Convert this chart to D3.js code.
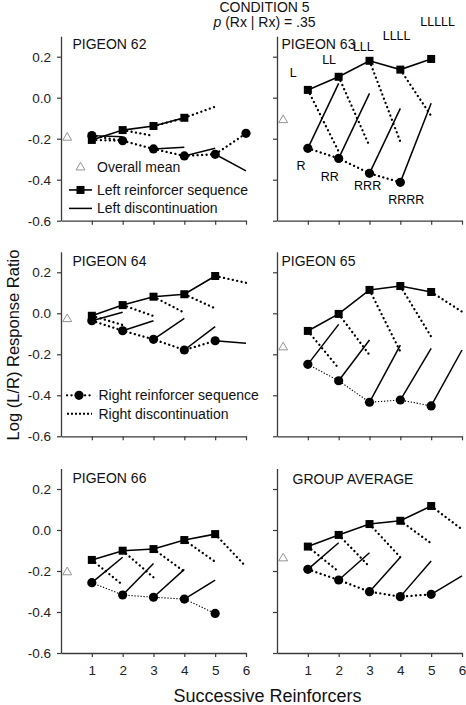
<!DOCTYPE html>
<html><head><meta charset="utf-8">
<script src="https://cdn.jsdelivr.net/npm/d3@7/dist/d3.min.js"></script>
<style>
body{margin:0;background:#fff;}
svg{display:block;font-family:"Liberation Sans",Arial,sans-serif;}
</style></head>
<body><svg id="chart" width="466" height="705"></svg>
<script>
// ---------- data ----------
const xTicks = [1, 2, 3, 4, 5, 6];
const yTicks = [0.2, 0.0, -0.2, -0.4, -0.6];
const yTickLabels = ["0.2", "0.0", "-0.2", "-0.4", "-0.6"];
const panelNames = ["PIGEON 62", "PIGEON 63", "PIGEON 64", "PIGEON 65", "PIGEON 66", "GROUP AVERAGE"];
const overallMean = [-0.195, -0.109, -0.028, -0.166, -0.206, -0.138];
// Left reinforcer sequence (squares), at x = 1..n
const leftSeq = [
  [-0.206, -0.158, -0.138, -0.098],
  [0.038, 0.102, 0.180, 0.137, 0.189],
  [-0.012, 0.040, 0.081, 0.093, 0.182],
  [-0.086, -0.003, 0.114, 0.133, 0.104],
  [-0.146, -0.101, -0.093, -0.049, -0.020],
  [-0.081, -0.024, 0.029, 0.045, 0.117]
];
// Right discontinuation: value at x = i+1 following square i
const rightDisc = [
  [-0.210, -0.186, -0.100, -0.044],
  [-0.263, -0.236, -0.215, -0.089],
  [-0.057, -0.013, 0.003, 0.024, 0.149],
  [-0.268, -0.203, -0.187, -0.114, 0.008],
  [-0.268, -0.231, -0.203, -0.155, -0.179],
  [-0.203, -0.179, -0.133, -0.065, 0.003]
];
// Right reinforcer sequence (circles), at x = 1..n
const rightSeq = [
  [-0.185, -0.210, -0.250, -0.284, -0.276, -0.174],
  [-0.247, -0.296, -0.369, -0.413],
  [-0.036, -0.085, -0.127, -0.179, -0.134],
  [-0.249, -0.329, -0.434, -0.423, -0.452],
  [-0.257, -0.317, -0.328, -0.337, -0.407],
  [-0.192, -0.244, -0.301, -0.325, -0.314]
];
// Left discontinuation: value at x = i+1 following circle i
const leftDisc = [
  [-0.190, null, -0.242, -0.247, -0.357],
  [0.070, 0.021, -0.052, -0.027],
  [0.005, -0.036, -0.025, -0.065, -0.146],
  [-0.054, -0.130, -0.155, -0.171, -0.179],
  [-0.133, -0.163, -0.192, -0.244],
  [-0.062, -0.111, -0.133, -0.151, -0.224]
];
// sequence labels for PIGEON 63 (data coords)
const seqLabelsL = ["L", "LL", "LLL", "LLLL", "LLLLL"];
const seqLabelsLx = [0.53, 1.69, 2.8, 3.88, 5.21];
const seqLabelsLy = [0.119, 0.183, 0.245, 0.300, 0.367];
const seqLabelsR = ["R", "RR", "RRR", "RRRR"];
const seqLabelsRx = [0.78, 1.71, 2.94, 4.19];
const seqLabelsRy = [-0.333, -0.387, -0.431, -0.500];
const meanX = 0.2;

// ---------- layout ----------
const svg = d3.select("#chart");
const colX = [[61, 246], [277, 462]];
const rowY = [[36.2, 220.7], [251.8, 436.3], [468.5, 653]];
const axisColor = "#3a3a3a";
const thinDotPanels = new Set([3, 4]);
const font = "Liberation Sans, Arial, sans-serif";

panelNames.forEach((name, p) => {
  const col = p % 2, row = Math.floor(p / 2);
  const x = d3.scaleLinear().domain([0, 6]).range(colX[col]);
  const y = d3.scaleLinear().domain([0.3, -0.6]).range(rowY[row]);
  const g = svg.append("g");

  // axes
  const xa = g.append("g").attr("transform", `translate(0,${y(-0.6)})`)
    .call(d3.axisBottom(x).tickValues(xTicks).tickSize(4).tickSizeOuter(0)
      .tickFormat(row === 2 ? d3.format("d") : () => ""));
  const ya = g.append("g").attr("transform", `translate(${x(0)},0)`)
    .call(d3.axisLeft(y).tickValues(yTicks).tickSize(4).tickSizeOuter(0)
      .tickFormat((d, i) => col === 0 ? yTickLabels[i] : ""));
  [xa, ya].forEach(a => {
    a.select(".domain").attr("stroke", axisColor).attr("stroke-width", 1.3);
    a.selectAll(".tick line").attr("stroke", axisColor).attr("stroke-width", 1.2);
    a.selectAll(".tick text").attr("fill", "#222").style("font-size", "13.5px").style("font-family", font);
  });
  xa.selectAll(".tick text").attr("dy", "1.12em");
  ya.selectAll(".tick text").attr("dx", "-3");

  const line = d3.line().x(d => x(d[0])).y(d => y(d[1]));
  const heavyDot = sel => sel.attr("fill", "none").attr("stroke", "#000").attr("stroke-width", 2.3)
    .attr("stroke-linecap", "round").attr("stroke-dasharray", "0.1,4.4");
  const thinDot = sel => sel.attr("fill", "none").attr("stroke", "#000").attr("stroke-width", 1.1)
    .attr("stroke-dasharray", "1.3,1.7");

  // right discontinuation (dotted from squares)
  rightDisc[p].forEach((v, i) => {
    if (v === null) return;
    g.append("path").attr("d", line([[i + 1, leftSeq[p][i]], [i + 2, v]])).call(heavyDot);
  });
  // left discontinuation (solid from circles)
  leftDisc[p].forEach((v, i) => {
    if (v === null) return;
    g.append("path").attr("d", line([[i + 1, rightSeq[p][i]], [i + 2, v]]))
      .attr("fill", "none").attr("stroke", "#000").attr("stroke-width", 1.5);
  });
  // right reinforcer sequence line
  g.append("path").attr("d", line(rightSeq[p].map((v, i) => [i + 1, v])))
    .call(thinDotPanels.has(p) ? thinDot : heavyDot);
  // left reinforcer sequence line
  g.append("path").attr("d", line(leftSeq[p].map((v, i) => [i + 1, v])))
    .attr("fill", "none").attr("stroke", "#000").attr("stroke-width", 1.6);

  // markers
  g.selectAll("rect.sq").data(leftSeq[p]).enter().append("rect")
    .attr("x", (d, i) => x(i + 1) - 4).attr("y", d => y(d) - 4)
    .attr("width", 8).attr("height", 8).attr("fill", "#000");
  g.selectAll("circle.c").data(rightSeq[p]).enter().append("circle")
    .attr("cx", (d, i) => x(i + 1)).attr("cy", d => y(d)).attr("r", 4.6).attr("fill", "#000");
  g.append("path").attr("d", d3.symbol(d3.symbolTriangle, 34)())
    .attr("transform", `translate(${x(meanX)},${y(overallMean[p])})`)
    .attr("fill", "#fff").attr("stroke", "#888").attr("stroke-width", 0.9);

  // panel label
  g.append("text").attr("x", x(0) + (col === 0 ? 11.5 : (p === 5 ? 15.5 : 4.5)))
    .attr("y", y(0.3) + (row === 0 ? 12.3 : (p === 5 ? 15 : 14)))
    .attr("font-size", 14).attr("fill", "#111").text(name);

  if (p === 1) {
    seqLabelsL.forEach((t, i) => g.append("text").attr("x", x(seqLabelsLx[i])).attr("y", y(seqLabelsLy[i]))
      .attr("text-anchor", "middle").attr("dominant-baseline", "central").attr("font-size", 12.5).text(t));
    seqLabelsR.forEach((t, i) => g.append("text").attr("x", x(seqLabelsRx[i])).attr("y", y(seqLabelsRy[i]))
      .attr("text-anchor", "middle").attr("dominant-baseline", "central").attr("font-size", 12.5).text(t));
  }

  // legends
  if (p === 0) {
    const lx0 = x(0) + 8, lx1 = x(0) + 31, tx = x(0) + 36;
    const rows = [y(-0.34), y(-0.45), y(-0.54)];
    g.append("path").attr("d", d3.symbol(d3.symbolTriangle, 34)()).attr("transform", `translate(${(lx0 + lx1) / 2},${rows[0]})`)
      .attr("fill", "#fff").attr("stroke", "#888").attr("stroke-width", 0.9);
    g.append("line").attr("x1", lx0).attr("x2", lx1).attr("y1", rows[1]).attr("y2", rows[1]).attr("stroke", "#000").attr("stroke-width", 1.6);
    g.append("rect").attr("x", (lx0 + lx1) / 2 - 4).attr("y", rows[1] - 4).attr("width", 8).attr("height", 8);
    g.append("line").attr("x1", lx0).attr("x2", lx1).attr("y1", rows[2]).attr("y2", rows[2]).attr("stroke", "#000").attr("stroke-width", 1.5);
    ["Overall mean", "Left reinforcer sequence", "Left discontinuation"].forEach((t, i) =>
      g.append("text").attr("x", tx).attr("y", rows[i]).attr("dominant-baseline", "central").attr("font-size", 14).attr("fill", "#111").text(t));
  }
  if (p === 2) {
    const lx0 = x(0) + 6, lx1 = x(0) + 31, tx = x(0) + 37.5;
    const rows = [y(-0.4), y(-0.49)];
    g.append("path").attr("d", line([[x.invert(lx0), -0.4], [x.invert(lx1), -0.4]])).call(heavyDot);
    g.append("circle").attr("cx", x(0) + 18).attr("cy", rows[0]).attr("r", 4.6);
    g.append("path").attr("d", line([[x.invert(lx0), -0.49], [x.invert(lx1), -0.49]]))
      .attr("fill", "none").attr("stroke", "#000").attr("stroke-width", 2).attr("stroke-dasharray", "2,2");
    ["Right reinforcer sequence", "Right discontinuation"].forEach((t, i) =>
      g.append("text").attr("x", tx).attr("y", rows[i]).attr("dominant-baseline", "central").attr("font-size", 14).attr("fill", "#111").text(t));
  }
});

// titles
svg.append("text").attr("x", 264.5).attr("y", 11.5).attr("text-anchor", "middle").attr("font-size", 14).attr("fill", "#111").text("CONDITION 5");
const sub = svg.append("text").attr("x", 264.5).attr("y", 26.5).attr("text-anchor", "middle").attr("font-size", 14).attr("fill", "#111");
sub.append("tspan").attr("font-style", "italic").text("p");
sub.append("tspan").text(" (Rx | Rx) = .35");
svg.append("text").attr("transform", "translate(19,345) rotate(-90)").attr("text-anchor", "middle")
  .attr("font-size", 16.5).attr("fill", "#111").text("Log (L/R) Response Ratio");
svg.append("text").attr("x", 267.5).attr("y", 702).attr("text-anchor", "middle")
  .attr("font-size", 18).attr("fill", "#111").text("Successive Reinforcers");
</script></body></html>
